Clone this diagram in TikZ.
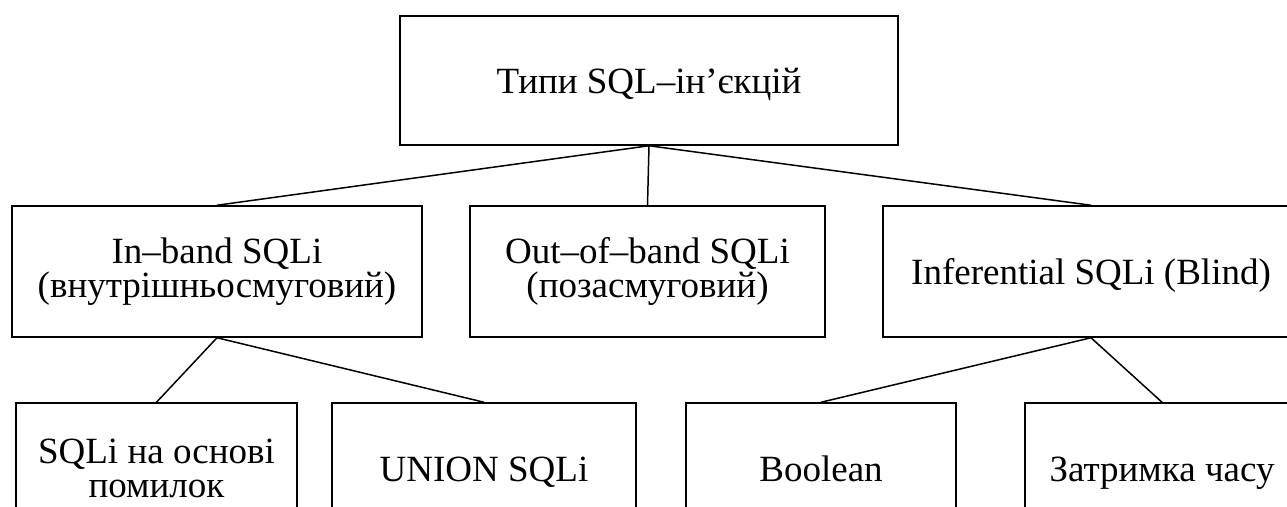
\documentclass[tikz,border=0pt]{standalone}
\usepackage{fontspec}
\setmainfont{Liberation Serif}
\begin{document}
\begin{tikzpicture}[x=1pt,y=-1pt,
  box/.style={draw, line width=1.5pt, inner sep=0pt, align=center,
    minimum height=131pt, font=\fontsize{37}{34}\selectfont},
  oneline/.style={text height=28pt, text depth=3pt},
  link/.style={line width=1.5pt}]
\useasboundingbox (0,0) rectangle (1287,506);
\clip (0,0) rectangle (1287,506);
\node[box, oneline, minimum width=498pt, minimum height=129pt] (top) at (649,80.5) {Типи SQL–ін’єкцій};
\node[box, minimum width=410pt] (b1) at (217,271.5) {In–band SQLi\\(внутрішньосмуговий)};
\node[box, minimum width=355pt] (b2) at (647.5,271.5) {Out–of–band SQLi\\(позасмуговий)};
\node[box, oneline, minimum width=416pt] (b3) at (1091,271.5) {Inferential SQLi (Blind)};
\node[box, minimum width=281pt] (c1) at (156.5,468.5) {SQLi на основі\\помилок};
\node[box, oneline, minimum width=304pt] (c2) at (484,468.5) {UNION SQLi};
\node[box, oneline, minimum width=270pt] (c3) at (821,468.5) {Boolean};
\node[box, oneline, minimum width=274pt] (c4) at (1162,468.5) {Затримка часу};
\draw[link] (top.south) -- (b1.north);
\draw[link] (top.south) -- (b2.north);
\draw[link] (top.south) -- (b3.north);
\draw[link] (b1.south) -- (c1.north);
\draw[link] (b1.south) -- (c2.north);
\draw[link] (b3.south) -- (c3.north);
\draw[link] (b3.south) -- (c4.north);
\end{tikzpicture}
\end{document}
